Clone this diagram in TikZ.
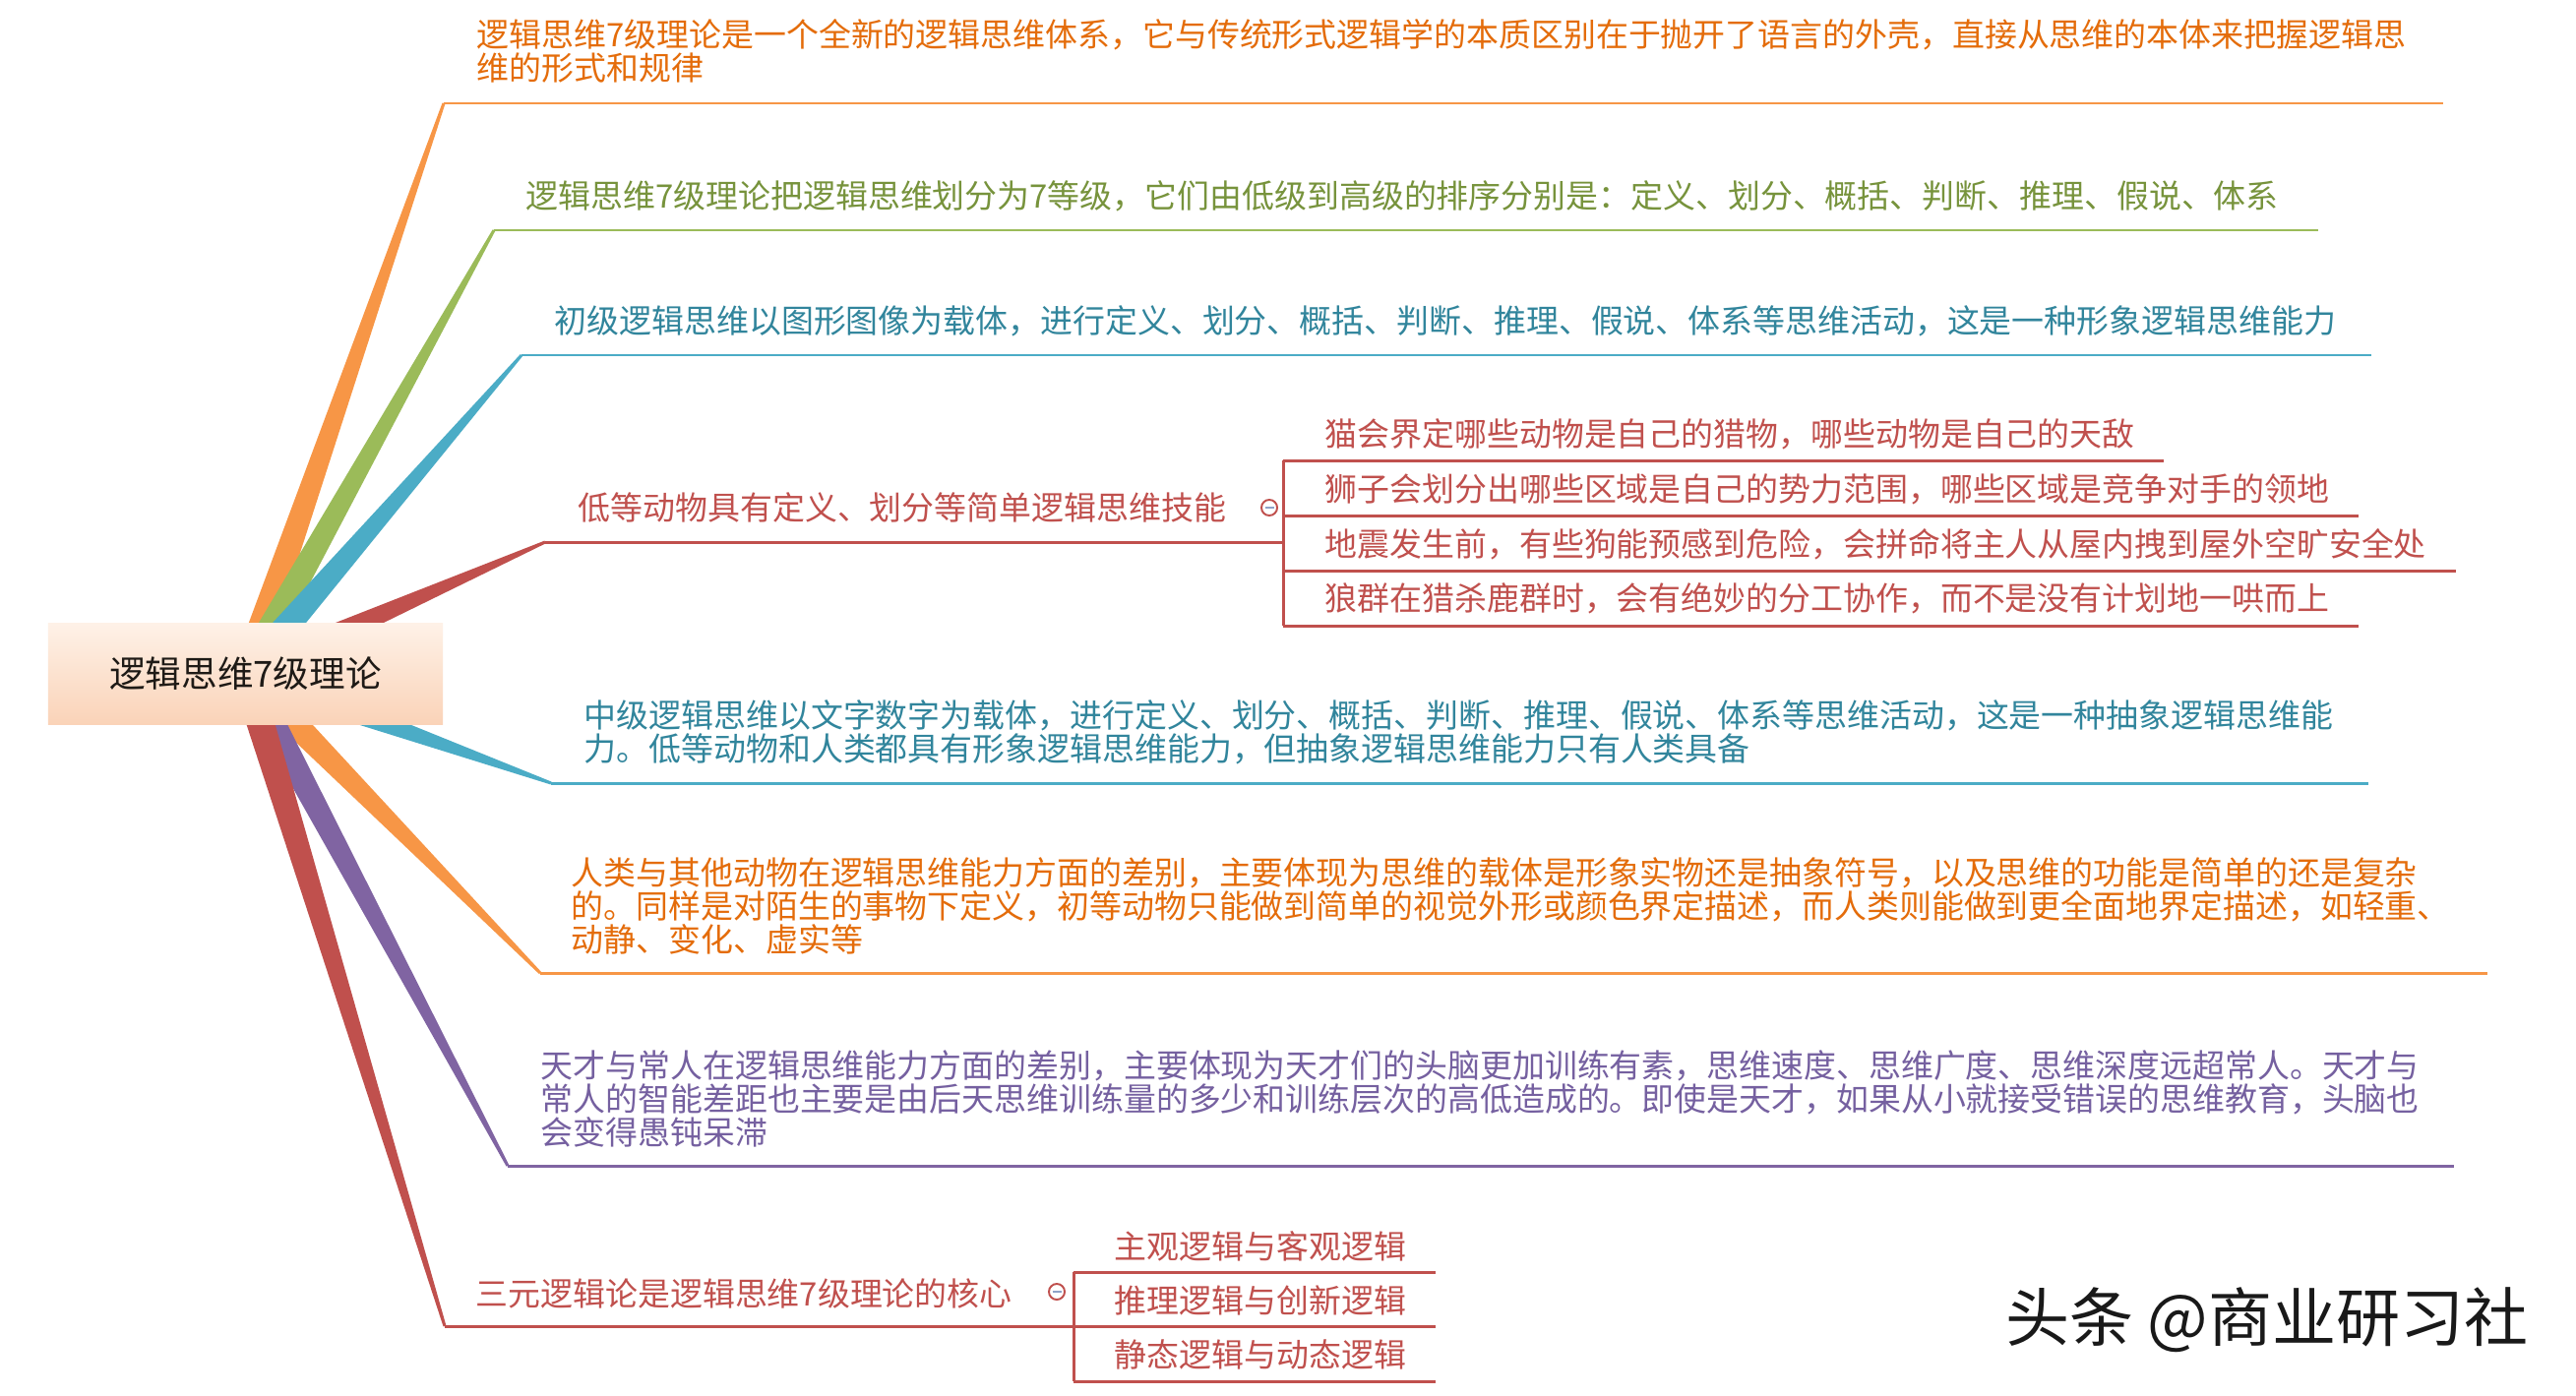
\documentclass[tikz,border=0pt]{standalone}
\usepackage{fontspec}
\setmainfont{Noto Sans CJK SC}
\usetikzlibrary{calc,backgrounds}
\definecolor{orangeL}{HTML}{F79646}
\definecolor{orangeT}{HTML}{E46C0A}
\definecolor{greenL}{HTML}{9BBB59}
\definecolor{greenT}{HTML}{77933C}
\definecolor{blueL}{HTML}{4BACC6}
\definecolor{blueT}{HTML}{31859C}
\definecolor{redL}{HTML}{C0504D}
\definecolor{redT}{HTML}{C0504D}
\definecolor{purpleL}{HTML}{8064A2}
\definecolor{purpleT}{HTML}{7560A0}
\definecolor{rootTop}{HTML}{FEF1E7}
\definecolor{rootBot}{HTML}{FAD3B8}
\definecolor{rootText}{HTML}{1E1A16}
\definecolor{minusGray}{HTML}{8EA2C8}
\newcommand\wedgebranch[2]{%
  \fill[#1] ($(root.center)!0.15cm!90:(#2)$) -- ($(#2)!0.015cm!-90:(root.center)$)
    -- ($(#2)!0.015cm!90:(root.center)$) -- ($(root.center)!0.15cm!-90:(#2)$) -- cycle;}
\begin{document}
\begin{tikzpicture}[x=0.01cm,y=-0.01cm,
  txt/.style={inner sep=0pt, anchor=west, align=left, font=\fontsize{9.36pt}{9.6pt}\selectfont},
  uline/.style={line width=0.85pt},
  rootbox/.style={rectangle, inner sep=0pt, minimum width=4.01cm, minimum height=1.02cm,
    top color=rootTop, bottom color=rootBot, draw=none, text=rootText,
    font=\fontsize{10.4pt}{10.4pt}\selectfont},
  fold/.style={circle, draw=redL, fill=white, line width=0.55pt, minimum size=0.16cm, inner sep=0pt,
    path picture={\draw[line width=0.6pt, minusGray] ([xshift=-0.045cm]path picture bounding box.center) -- ([xshift=0.045cm]path picture bounding box.center);}}
]
\useasboundingbox (0,0) rectangle (2618,1418);

% root
\node[rootbox] (root) at (249.5,685) {逻辑思维7级理论};

% branch start / end coordinates
\coordinate (b1) at (451,105);  \coordinate (e1) at (2483,105);
\coordinate (b2) at (502,234);  \coordinate (e2) at (2356,234);
\coordinate (b3) at (530,361);  \coordinate (e3) at (2410,361);
\coordinate (b4) at (554,551);  \coordinate (e4) at (1304,551);
\coordinate (b5) at (560,796);  \coordinate (e5) at (2407,796);
\coordinate (b6) at (549,989);  \coordinate (e6) at (2528,989);
\coordinate (b7) at (516,1185); \coordinate (e7) at (2494,1185);
\coordinate (b8) at (452,1348); \coordinate (e8) at (1091,1348);

% sub brackets
\coordinate (k1a) at (1304,468); \coordinate (k1b) at (1304,524);
\coordinate (k1c) at (1304,580); \coordinate (k1d) at (1304,636);
\coordinate (s1e) at (2199,468); \coordinate (s2e) at (2397,524);
\coordinate (s3e) at (2496,580); \coordinate (s4e) at (2397,636);
\coordinate (k2a) at (1091,1293); \coordinate (k2b) at (1091,1348); \coordinate (k2c) at (1091,1404);
\coordinate (r1e) at (1459,1293); \coordinate (r2e) at (1459,1348); \coordinate (r3e) at (1459,1404);

\begin{scope}[on background layer]
  \fill[white] (0,0) rectangle (2618,1418);
  \wedgebranch{orangeL}{b1}
  \wedgebranch{greenL}{b2}
  \wedgebranch{blueL}{b3}
  \wedgebranch{redL}{b4}
  \wedgebranch{blueL}{b5}
  \wedgebranch{orangeL}{b6}
  \wedgebranch{purpleL}{b7}
  \wedgebranch{redL}{b8}
\end{scope}

% underlines
\draw[uline, orangeL] (b1) -- (e1);
\draw[uline, greenL] (b2) -- (e2);
\draw[uline, blueL] (b3) -- (e3);
\draw[uline, redL] (b4) -- (e4);
\draw[uline, blueL] (b5) -- (e5);
\draw[uline, orangeL] (b6) -- (e6);
\draw[uline, purpleL] (b7) -- (e7);
\draw[uline, redL] (b8) -- (e8);

\draw[uline, redL] (k1a) -- (k1d);
\draw[uline, redL] (k1a) -- (s1e);
\draw[uline, redL] (k1b) -- (s2e);
\draw[uline, redL] (k1c) -- (s3e);
\draw[uline, redL] (k1d) -- (s4e);
\draw[uline, redL] (k2a) -- (k2c);
\draw[uline, redL] (k2a) -- (r1e);
\draw[uline, redL] (k2b) -- (r2e);
\draw[uline, redL] (k2c) -- (r3e);

% texts
\node[txt, text=orangeT] (t1) at (484,52) {逻辑思维7级理论是一个全新的逻辑思维体系，它与传统形式逻辑学的本质区别在于抛开了语言的外壳，直接从思维的本体来把握逻辑思\\维的形式和规律};
\node[txt, text=greenT] (t2) at (534,199) {逻辑思维7级理论把逻辑思维划分为7等级，它们由低级到高级的排序分别是：定义、划分、概括、判断、推理、假说、体系};
\node[txt, text=blueT] (t3) at (563,326) {初级逻辑思维以图形图像为载体，进行定义、划分、概括、判断、推理、假说、体系等思维活动，这是一种形象逻辑思维能力};
\node[txt, text=redT] (t4) at (587,516) {低等动物具有定义、划分等简单逻辑思维技能};
\node[fold] (c1) at (1290,516) {};
\node[txt, text=redT] (s1) at (1346,441) {猫会界定哪些动物是自己的猎物，哪些动物是自己的天敌};
\node[txt, text=redT] (s2) at (1346,497) {狮子会划分出哪些区域是自己的势力范围，哪些区域是竞争对手的领地};
\node[txt, text=redT] (s3) at (1346,553) {地震发生前，有些狗能预感到危险，会拼命将主人从屋内拽到屋外空旷安全处};
\node[txt, text=redT] (s4) at (1346,608) {狼群在猎杀鹿群时，会有绝妙的分工协作，而不是没有计划地一哄而上};
\node[txt, text=blueT] (t5) at (593,744) {中级逻辑思维以文字数字为载体，进行定义、划分、概括、判断、推理、假说、体系等思维活动，这是一种抽象逻辑思维能\\力。低等动物和人类都具有形象逻辑思维能力，但抽象逻辑思维能力只有人类具备};
\node[txt, text=orangeT] (t6) at (580,921) {人类与其他动物在逻辑思维能力方面的差别，主要体现为思维的载体是形象实物还是抽象符号，以及思维的功能是简单的还是复杂\\的。同样是对陌生的事物下定义，初等动物只能做到简单的视觉外形或颜色界定描述，而人类则能做到更全面地界定描述，如轻重、\\动静、变化、虚实等};
\node[txt, text=purpleT] (t7) at (549,1117) {天才与常人在逻辑思维能力方面的差别，主要体现为天才们的头脑更加训练有素，思维速度、思维广度、思维深度远超常人。天才与\\常人的智能差距也主要是由后天思维训练量的多少和训练层次的高低造成的。即使是天才，如果从小就接受错误的思维教育，头脑也\\会变得愚钝呆滞};
\node[txt, text=redT] (t8) at (483,1315) {三元逻辑论是逻辑思维7级理论的核心};
\node[fold] (c2) at (1074,1313) {};
\node[txt, text=redT] (r1) at (1132,1267) {主观逻辑与客观逻辑};
\node[txt, text=redT] (r2) at (1132,1322) {推理逻辑与创新逻辑};
\node[txt, text=redT] (r3) at (1132,1377) {静态逻辑与动态逻辑};

% watermark
\node[inner sep=0pt, text=black!90, font=\fontsize{18.5pt}{18.5pt}\selectfont] (wm) at (2304,1342) {头条 @商业研习社};
\end{tikzpicture}
\end{document}
